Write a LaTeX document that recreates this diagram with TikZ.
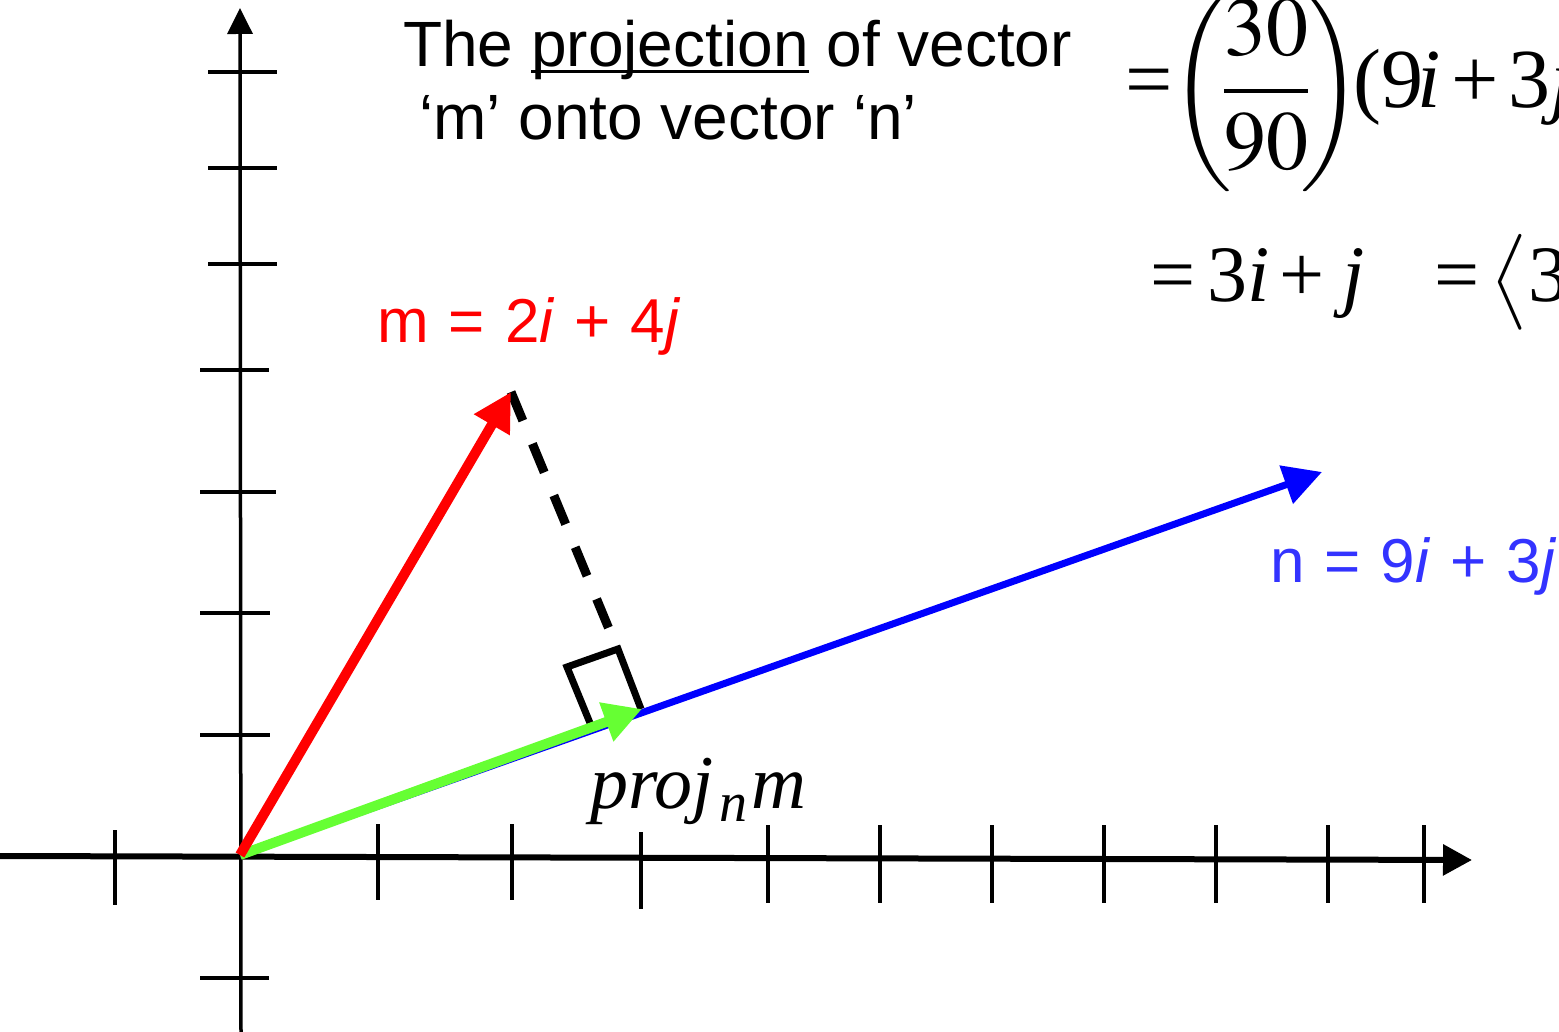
\documentclass[tikz,border=0pt]{standalone}
\usepackage{mathptmx}
\usepackage[no-math]{fontspec}
\newfontfamily\projsans{Liberation Sans}
\newfontfamily\projserif{Liberation Serif}
\usetikzlibrary{arrows.meta}
\definecolor{ProjRed}{RGB}{255,0,0}
\definecolor{ProjBlue}{RGB}{0,0,255}
\definecolor{ProjSoftBlue}{RGB}{51,51,255}
\definecolor{ProjGreen}{RGB}{102,255,51}
\newcommand\projline[1]{\setbox0\hbox{#1}\rlap{\rule[-6pt]{\wd0}{3pt}}\box0\relax}
\newcommand\projwide{\spaceskip=20pt\relax}
\tikzset{
  proj/xaxis/.style={draw=black, line width=6pt, -{Triangle[length=29pt,width=30pt]}},
  proj/yaxis/.style={draw=black, line width=3.5pt, -{Triangle[length=26pt,width=25pt]}},
  proj/tick/.style={draw=black, line width=4.5pt},
  proj/vec/.style={line width=10pt, -{Triangle[length=38pt,width=39pt]}},
  proj/dashline/.style={draw=black, line width=9pt, dash pattern=on 31pt off 25pt},
  proj/corner/.style={draw=black, line width=7pt, miter limit=4},
  proj/title/.style={font=\projsans\fontsize{64}{73}\selectfont, anchor=base west, inner sep=0pt},
  proj/label/.style={font=\projsans\fontsize{62}{70}\selectfont, anchor=base west, inner sep=0pt},
  proj/math/.style={font=\projserif, anchor=base west, inner sep=0pt}
}

\begin{document}
\begin{tikzpicture}[x=1pt,y=-1pt]
  \useasboundingbox (0,0) rectangle (1559,1032);
  \clip (0,0) rectangle (1559,1032);

  \coordinate (O) at (240,855);
  \coordinate (xstart) at (0,856);
  \coordinate (xend) at (1472,860);
  \coordinate (ybot) at (241,1032);
  \coordinate (ytop) at (240,8);
  \coordinate (mtip) at (511,392);
  \coordinate (ntip) at (1322,472);
  \coordinate (ptip) at (642,709);
  \coordinate (mfoot) at (609,629);

  \draw[proj/xaxis] (xstart) -- (xend);
  \draw[proj/yaxis] (ybot) -- (ytop);
  \foreach \x/\a/\b in {115/830/905,378/824/900,512/824/900,641/832/909,768/825/903,
      880/825/903,992/825/903,1104/825/903,1216/825/903,1328/825/903,1424/825/903}
    \draw[proj/tick] (\x,\a) -- (\x,\b);
  \foreach \y/\a/\b in {72/208/277,168/208/277,264/208/277,370/200/269,
      492/200/276,613/200/270,735/200/270,978/200/269}
    \draw[proj/tick] (\a,\y) -- (\b,\y);

  \draw[proj/vec, draw=ProjBlue, fill=ProjBlue, line width=7pt] (O) -- (ntip);
  \draw[proj/dashline] (mtip) -- (mfoot);
  \draw[proj/corner] (590,723) -- (567,667) -- (618,649) -- (641,709);
  \draw[proj/vec, draw=ProjGreen, fill=ProjGreen] (O) -- (ptip);
  \draw[proj/vec, draw=ProjRed, fill=ProjRed] (O) -- (mtip);

  \node[proj/title] (title) at (403,67) {The \projline{projection} of vector};
  \node[proj/title] (titleb) at (419,140) {‘m’ onto vector ‘n’};
  \node[proj/label, text=ProjRed] (mlabel) at (377,343) {\projwide m = 2\textit{i} + 4\textit{j}};
  \node[proj/label, text=ProjSoftBlue] (nlabel) at (1270,582) {\projwide n = 9\textit{i} + 3\textit{j}};
  \node[proj/math] (projlabel) at (590,808)
    {\fontsize{76}{90}\selectfont\textit{proj}\hspace{5pt}\raisebox{-13pt}{\fontsize{56}{60}\selectfont\textit{n}}\hspace{4pt}\textit{m}};
  \node[proj/math] (eqone) at (1125,108)
    {\fontsize{84}{100}\selectfont =\hspace{-2pt}\raisebox{-4pt}{$\left(\mkern-2mu{\displaystyle\frac{30}{90}}\mkern-2mu\right)$}\hspace{-8pt}(9\hspace{-6pt}\textit{i}\hspace{10pt}+\hspace{10pt}3\textit{j})};
  \node[proj/math] (eqtwo) at (1150,302)
    {\fontsize{80}{96}\selectfont =\hspace{12pt}3\textit{i}\hspace{10pt}+\hspace{18pt}\textit{j}\hspace{70pt}=\hspace{10pt}$\left\langle\vrule height 64pt depth 26pt width 0pt\right.$3};
\end{tikzpicture}
\end{document}
